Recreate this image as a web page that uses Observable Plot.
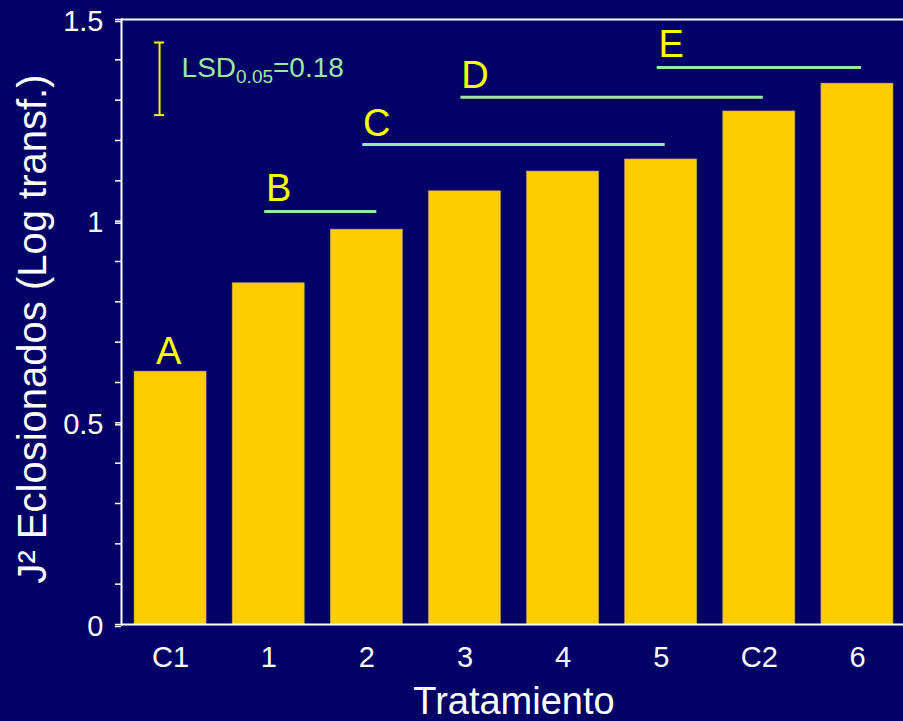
<!DOCTYPE html>
<html><head><meta charset="utf-8">
<script src="https://cdn.jsdelivr.net/npm/d3@7"></script>
<script src="https://cdn.jsdelivr.net/npm/@observablehq/plot@0.6"></script>
<style>
html,body{margin:0;padding:0;background:#000066;overflow:hidden;}
#chart svg{display:block;}
</style></head><body><div id="chart"></div>
<script>
// ---- data ----
const categories = ["C1","1","2","3","4","5","C2","6"];
const values = [0.627, 0.846, 0.979, 1.074, 1.123, 1.153, 1.272, 1.341];

const groupLetters = ["B","C","D","E"];
const groupFrom = ["1","2","3","5"];
const groupTo = ["2","5","C2","6"];
const groupLineY = [1.024, 1.190, 1.307, 1.381];
const groupLetterY = [1.051, 1.212, 1.330, 1.407];

const firstLetter = "A";
const firstLetterCat = "C1";
const firstLetterY = 0.645;

const lsdValue = 0.18;
const lsdTop = 1.443;
const lsdLabel = "LSD0.05=0.18";

const majorTicks = [0, 0.5, 1, 1.5];
const minorTicks = [0,0.1,0.2,0.3,0.4,0.5,0.6,0.7,0.8,0.9,1,1.1,1.2,1.3,1.4,1.5];
const xTitle = "Tratamiento";
const yTitle = "J² Eclosionados (Log transf.)";

// ---- tables ----
const bars = categories.map((c, i) => ({cat: c, value: values[i]}));
const groups = groupLetters.map((g, i) => ({g, from: groupFrom[i], to: groupTo[i], ly: groupLineY[i], ty: groupLetterY[i]}));

const white = "white";
const green = "#9de8a0";
const yellow = "#ffff00";

const chart = Plot.plot({
  width: 903,
  height: 721,
  marginLeft: 121,
  marginRight: -3,
  marginTop: 19,
  marginBottom: 97,
  style: {background: "#000066", color: white, fontFamily: "'Liberation Sans', Arial, sans-serif", overflow: "visible"},
  x: {domain: categories, paddingInner: 0.266, paddingOuter: 0.133, round: false, label: null},
  y: {domain: [0, 1.5], label: null},
  marks: [
    Plot.barY(bars, {x: "cat", y: "value", fill: "#ffcc00", stroke: "#b8a060", strokeWidth: 0.6}),
    Plot.ruleY([0], {stroke: white, strokeWidth: 2}),
    Plot.ruleY([1.5], {stroke: white, strokeWidth: 2}),
    Plot.frame({anchor: "left", stroke: white, strokeWidth: 2}),
    Plot.axisY(minorTicks, {tickSize: 6, tickFormat: () => "", stroke: white, strokeWidth: 1.5}),
    Plot.axisY(majorTicks, {tickSize: 6, tickPadding: 12, fontSize: 29, tickFormat: d => String(d), stroke: white, strokeWidth: 1.5, dy: 2, label: null}),
    Plot.axisX({tickSize: 0, tickPadding: 22, fontSize: 29, label: null}),
    Plot.text([xTitle], {frameAnchor: "bottom", dy: 89, lineAnchor: "bottom", fontSize: 38, fill: white}),
    Plot.text([yTitle], {frameAnchor: "left", rotate: -90, dx: -76, dy: 7, textAnchor: "middle", lineAnchor: "bottom", fontSize: 40, fill: white}),
    // group lines (span from band of first to band of last member)
    Plot.ruleY(groups.filter(d => d.g !== "B"), {x1: "from", x2: "to", y: "ly", stroke: green, strokeWidth: 3, insetLeft: 32, insetRight: 32}),
    Plot.ruleY(groups.filter(d => d.g === "B"), {x1: "from", x2: "to", y: "ly", stroke: green, strokeWidth: 3, insetLeft: 32, insetRight: 26}),
    Plot.text(groups, {x: "from", y: "ty", text: "g", dx: 10, lineAnchor: "bottom", fontSize: 38, fill: yellow}),
    Plot.text([firstLetter], {x: () => firstLetterCat, y: () => firstLetterY, text: d => d, dx: -2, lineAnchor: "bottom", fontSize: 38, fill: yellow}),
    // LSD bar
    Plot.ruleX([lsdTop], {x: () => "C1", y1: d => d, y2: d => d - lsdValue, dx: -11, stroke: "#ffee00", strokeWidth: 2}),
    Plot.tickY([lsdTop, lsdTop - lsdValue], {x: () => "C1", y: d => d, insetLeft: 20, insetRight: 42, stroke: "#ffee00", strokeWidth: 2}),
    Plot.text([lsdLabel], {x: () => "C1", y: () => lsdTop - lsdValue / 2, text: d => d, dx: 11, dy: -1.5, textAnchor: "start", lineAnchor: "bottom", fontSize: 28, fill: green})
  ]
});

// subscript for LSD label
chart.querySelectorAll("text").forEach(t => {
  if (t.textContent === lsdLabel) {
    t.textContent = "";
    const ns = "http://www.w3.org/2000/svg";
    const a = document.createElementNS(ns, "tspan"); a.textContent = "LSD";
    const b = document.createElementNS(ns, "tspan"); b.textContent = "0.05"; b.setAttribute("font-size", "19"); b.setAttribute("dy", "6");
    const c = document.createElementNS(ns, "tspan"); c.textContent = "=0.18"; c.setAttribute("dy", "-6");
    t.append(a, b, c);
  }
});
document.getElementById("chart").append(chart);
</script></body></html>
